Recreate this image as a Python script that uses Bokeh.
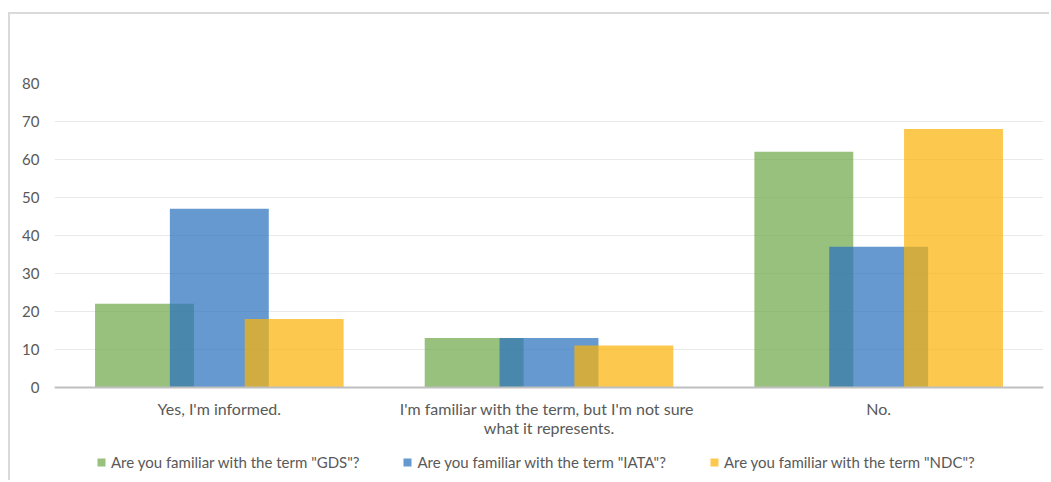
from bokeh.plotting import figure
from bokeh.models import ColumnDataSource, FactorRange, Range1d, Legend, LegendItem
from bokeh.transform import dodge
from bokeh.embed import file_html
from bokeh.resources import INLINE

categories = ["Yes, I'm informed.",
              "I'm familiar  with the term, but I'm not sure\nwhat it represents.",
              "No."]
gds = [22, 13, 62]
iata = [47, 13, 37]
ndc = [18, 11, 68]
series_names = ['Are you familiar with the term "GDS"?',
                'Are you familiar with the term "IATA"?',
                'Are you familiar with the term "NDC"?']
y_ticks = [0, 10, 20, 30, 40, 50, 60, 70, 80]

src = ColumnDataSource(dict(cat=categories, gds=gds, iata=iata, ndc=ndc))

FONT = "Lato"
TXT = "#595959"

p = figure(x_range=FactorRange(*categories), y_range=Range1d(-24, 80),
           width=1041, height=468, output_backend="svg", toolbar_location=None,
           min_border_left=44, min_border_right=8, min_border_top=69, min_border_bottom=4)
p.styles = {"margin-left": "8px", "margin-top": "12px",
            "border-top": "2px solid #DADADA", "border-left": "2px solid #DADADA"}
p.outline_line_color = None

colors = ["#71A94C", "#2A71BE", "#FBB30A"]
alpha = 0.72
w = 0.30
r1 = p.vbar(x=dodge("cat", -0.227, range=p.x_range), top="gds", bottom=0, width=w, source=src,
            fill_color=colors[0], fill_alpha=alpha, line_color=None)
r2 = p.vbar(x=dodge("cat", 0.0, range=p.x_range), top="iata", bottom=0, width=w, source=src,
            fill_color=colors[1], fill_alpha=alpha, line_color=None)
r3 = p.vbar(x=dodge("cat", 0.227, range=p.x_range), top="ndc", bottom=0, width=w, source=src,
            fill_color=colors[2], fill_alpha=alpha, line_color=None)

p.xgrid.grid_line_color = None
p.ygrid.grid_line_color = "#E9E9E9"
p.ygrid.grid_line_width = 1
p.yaxis.ticker = y_ticks
p.yaxis.axis_line_color = None
p.yaxis.major_tick_line_color = None
p.yaxis.minor_tick_line_color = None
p.yaxis.major_label_text_font = FONT
p.yaxis.major_label_text_font_size = "15px"
p.yaxis.major_label_text_color = TXT
p.yaxis.major_label_standoff = 9

p.xaxis.fixed_location = 0
p.xaxis.axis_line_color = "#BFBFBF"
p.xaxis.axis_line_width = 2
p.xaxis.major_tick_line_color = None
p.xaxis.minor_tick_line_color = None
p.xaxis.major_label_text_font = FONT
p.xaxis.major_label_text_font_size = "16px"
p.xaxis.major_label_text_color = TXT
p.xaxis.major_label_text_line_height = 1.0
p.xaxis.major_label_standoff = 6

legend = Legend(items=[LegendItem(label=series_names[0], renderers=[r1]),
                       LegendItem(label=series_names[1], renderers=[r2]),
                       LegendItem(label=series_names[2], renderers=[r3])],
                orientation="horizontal", location=(42, 7),
                label_text_font=FONT, label_text_font_size="15px", label_text_color=TXT,
                glyph_width=10, glyph_height=10, spacing=43, label_standoff=5,
                border_line_color=None, background_fill_alpha=0, padding=4, margin=0)
p.add_layout(legend, "center")

open("out.html", "w").write(file_html(p, INLINE))
